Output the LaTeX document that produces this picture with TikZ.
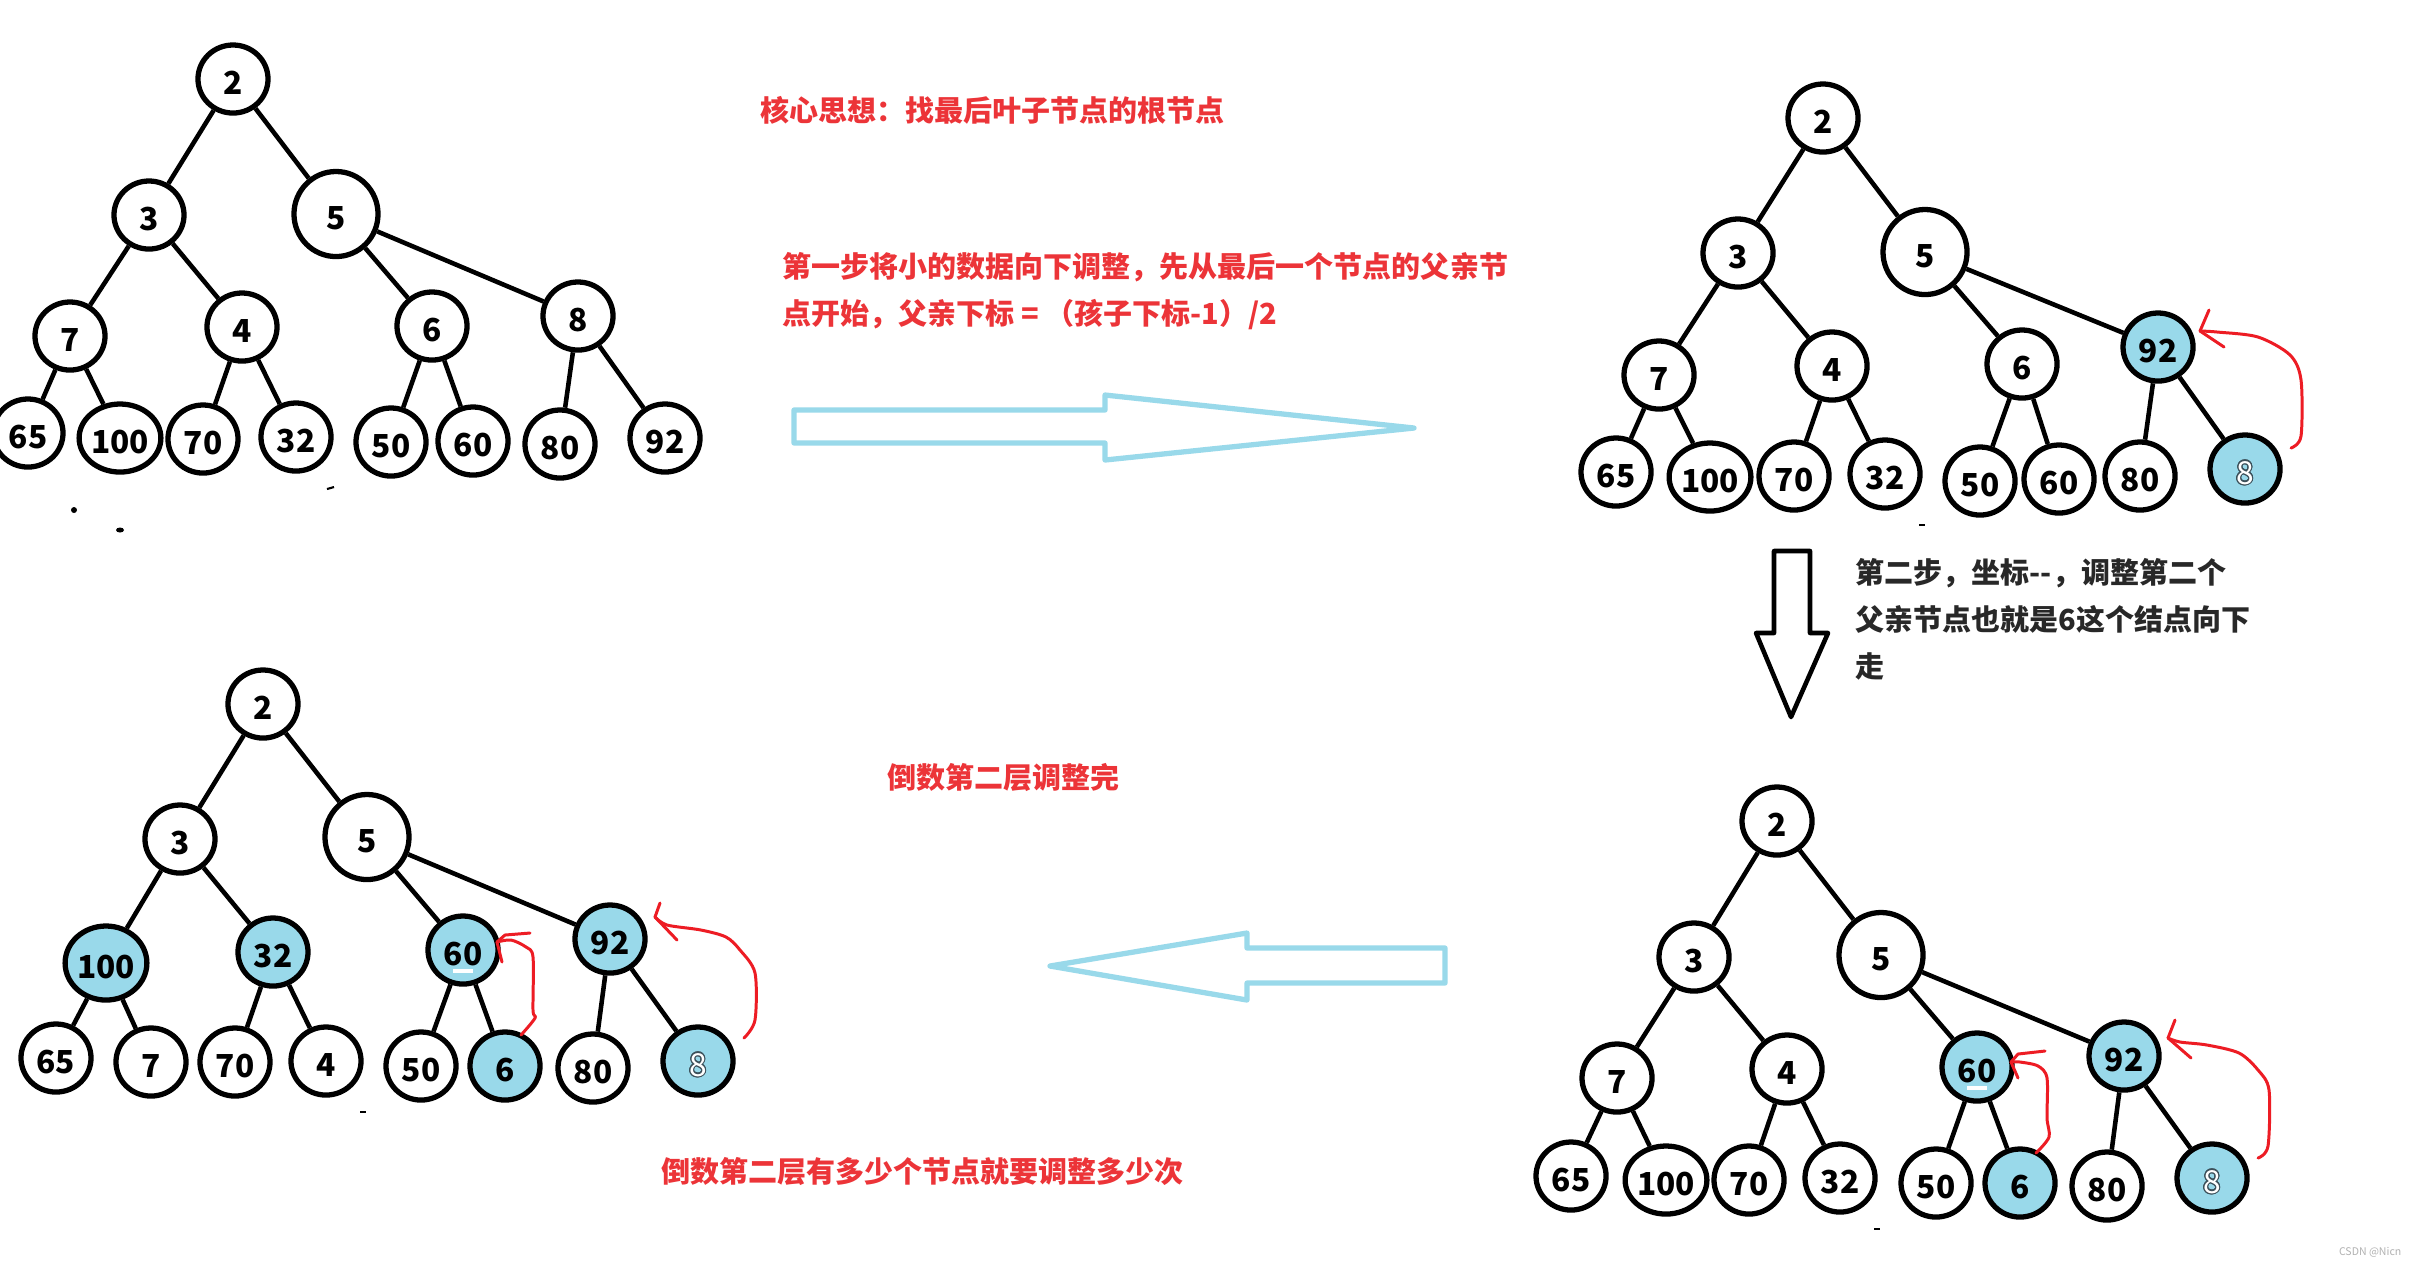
\documentclass[tikz,border=0pt]{standalone}
\usepackage{fontspec}
\newfontfamily\cjk{Noto Sans CJK SC}
\usepackage{contour}
\contourlength{0.3pt}
\usetikzlibrary{shapes.geometric}
\definecolor{nodeblue}{RGB}{153,217,234}
\definecolor{arrred}{RGB}{237,28,36}
\definecolor{textred}{RGB}{236,52,56}
\definecolor{textdark}{RGB}{40,40,40}
\definecolor{eightline}{RGB}{60,80,90}
\tikzset{
  nd/.style={ellipse, draw=black, line width=1.5pt, minimum width=0.70cm, minimum height=0.68cm,
    inner sep=0pt, fill=white, font=\cjk\bfseries\fontsize{9}{9}\selectfont,
    text height=0.3cm, text depth=0cm},
  bigger/.style={minimum width=0.84cm, minimum height=0.85cm},
  bn/.style={nd, fill=nodeblue},
  edge/.style={line width=1.3pt, black},
  redarr/.style={draw=arrred, line width=0.85pt, line join=round, line cap=round},
  blarrow/.style={draw=nodeblue, line width=1.5pt, line join=round},
  blkarrow/.style={draw=black, line width=1.3pt, line join=round},
  txt/.style={font=\cjk\bfseries\fontsize{8.25}{13.4}\selectfont, text=textred, inner sep=0pt, anchor=west, align=left},
  dtxt/.style={txt, text=textdark},
  speck/.style={fill=black},
}
\newcommand{\eightmark}{{\fontseries{m}\selectfont\contour{eightline}{\textcolor{white}{8}}}}
\begin{document}
\begin{tikzpicture}[x=0.01cm,y=-0.01cm]
\fill[white] (0,0) rectangle (2413,1265);
\useasboundingbox (0,0) rectangle (2413,1265);

% ---------- Tree 1 (top left) ----------
\node[nd] (A1) at (233,79) {2};
\node[nd] (A2) at (149,215) {3};
\node[nd,bigger] (A3) at (336,214) {5};
\node[nd] (A4) at (70,336) {7};
\node[nd] (A5) at (242,327) {4};
\node[nd] (A6) at (432,326) {6};
\node[nd] (A7) at (578,316) {8};
\node[nd] (A8) at (28,433) {65};
\node[nd] (A9) at (120,438) {100};
\node[nd] (A10) at (203,439) {70};
\node[nd] (A11) at (296,437) {32};
\node[nd] (A12) at (391,442) {50};
\node[nd] (A13) at (473,441) {60};
\node[nd] (A14) at (560,444) {80};
\node[nd] (A15) at (665,438) {92};
\foreach \p/\c in {A1/A2,A1/A3,A2/A4,A2/A5,A3/A6,A3/A7,A4/A8,A4/A9,A5/A10,A5/A11,A6/A12,A6/A13,A7/A14,A7/A15}
  \draw[edge] (\p) -- (\c);

% ---------- Tree 2 (top right) ----------
\node[nd] (B1) at (1823,118) {2};
\node[nd] (B2) at (1738,253) {3};
\node[nd,bigger] (B3) at (1925,252) {5};
\node[nd] (B4) at (1659,375) {7};
\node[nd] (B5) at (1832,366) {4};
\node[nd] (B6) at (2022,364) {6};
\node[bn] (B7) at (2158,347) {92};
\node[nd] (B8) at (1616,472) {65};
\node[nd] (B9) at (1710,477) {100};
\node[nd] (B10) at (1794,476) {70};
\node[nd] (B11) at (1885,474) {32};
\node[nd] (B12) at (1980,481) {50};
\node[nd] (B13) at (2059,479) {60};
\node[nd] (B14) at (2140,476) {80};
\node[bn] (B15) at (2245,469) {\eightmark};
\foreach \p/\c in {B1/B2,B1/B3,B2/B4,B2/B5,B3/B6,B3/B7,B4/B8,B4/B9,B5/B10,B5/B11,B6/B12,B6/B13,B7/B14,B7/B15}
  \draw[edge] (\p) -- (\c);
\draw[redarr] plot[smooth] coordinates {(2291,448) (2301,436) (2301,380) (2290,355) (2258,337) (2217,332) (2200,331)};
\draw[redarr] (2209,310) -- (2200,331) -- (2224,347);

% ---------- Tree 3 (bottom right) ----------
\node[nd] (C1) at (1777,821) {2};
\node[nd] (C2) at (1694,957) {3};
\node[nd,bigger] (C3) at (1881,955) {5};
\node[nd] (C4) at (1617,1078) {7};
\node[nd] (C5) at (1787,1069) {4};
\node[bn] (C6) at (1977,1067) {60};
\node[bn] (C7) at (2124,1056) {92};
\node[nd] (C8) at (1571,1176) {65};
\node[nd] (C9) at (1666,1180) {100};
\node[nd] (C10) at (1749,1180) {70};
\node[nd] (C11) at (1840,1178) {32};
\node[nd] (C12) at (1936,1183) {50};
\node[bn] (C13) at (2020,1183) {6};
\node[nd] (C14) at (2107,1186) {80};
\node[bn] (C15) at (2212,1178) {\eightmark};
\foreach \p/\c in {C1/C2,C1/C3,C2/C4,C2/C5,C3/C6,C3/C7,C4/C8,C4/C9,C5/C10,C5/C11,C6/C12,C6/C13,C7/C14,C7/C15}
  \draw[edge] (\p) -- (\c);
\draw[white, line width=0.9pt] ([shift={(-10,21)}]C6.center) -- ++(20,0);
\draw[redarr] plot[smooth] coordinates {(2036,1153) (2049,1137) (2047,1118) (2047,1078) (2038,1066) (2020,1062) (2011,1062)};
\draw[redarr] (2045,1051) -- (2018,1054) -- (2011,1062) -- (2018,1078);
\draw[redarr] plot[smooth] coordinates {(2258,1158) (2268,1146) (2269,1090) (2258,1070) (2239,1053) (2207,1045) (2180,1042) (2168,1038)};
\draw[redarr] (2175,1020) -- (2168,1038) -- (2191,1058);

% ---------- Tree 4 (bottom left) ----------
\node[nd] (D1) at (263,704) {2};
\node[nd] (D2) at (180,839) {3};
\node[nd,bigger] (D3) at (367,837) {5};
\node[bn, minimum width=0.80cm, minimum height=0.74cm] (D4) at (106,963) {100};
\node[bn] (D5) at (273,952) {32};
\node[bn] (D6) at (463,950) {60};
\node[bn] (D7) at (610,939) {92};
\node[nd] (D8) at (56,1058) {65};
\node[nd] (D9) at (151,1062) {7};
\node[nd] (D10) at (235,1062) {70};
\node[nd] (D11) at (326,1061) {4};
\node[nd] (D12) at (421,1066) {50};
\node[bn] (D13) at (505,1066) {6};
\node[nd] (D14) at (593,1068) {80};
\node[bn] (D15) at (698,1061) {\eightmark};
\foreach \p/\c in {D1/D2,D1/D3,D2/D4,D2/D5,D3/D6,D3/D7,D4/D8,D4/D9,D5/D10,D5/D11,D6/D12,D6/D13,D7/D14,D7/D15}
  \draw[edge] (\p) -- (\c);
\draw[white, line width=0.9pt] ([shift={(-10,21)}]D6.center) -- ++(20,0);
\draw[redarr] plot[smooth] coordinates {(521,1035) (535,1018) (533,1010) (533,957) (526,947) (511,940) (497,942)};
\draw[redarr] (530,933) -- (505,935) -- (497,942) -- (502,962);
\draw[redarr] plot[smooth] coordinates {(744,1038) (755,1020) (755,973) (740,950) (726,937) (701,930) (667,925) (655,917)};
\draw[redarr] (660,903) -- (655,917) -- (677,940);

% ---------- block arrows ----------
\draw[blarrow] (794,410) -- (1105,410) -- (1105,395) -- (1414,428) -- (1105,460) -- (1105,443) -- (794,443) -- cycle;
\draw[blarrow] (1445,948) -- (1247,948) -- (1247,933) -- (1050,966) -- (1247,1000) -- (1247,983) -- (1445,983) -- cycle;
\draw[blkarrow] (1774,551) -- (1810,551) -- (1810,633) -- (1828,633) -- (1791,717) -- (1756,633) -- (1774,633) -- cycle;

% ---------- texts ----------
\node[txt] (t1) at (760,110) {核心思想：找最后叶子节点的根节点};
\node[txt] (t2) at (782,291) {第一步将小的数据向下调整，先从最后一个节点的父亲节\\点开始，父亲下标 = （孩子下标-1）/2};
\node[dtxt] (t3) at (1855,619) {第二步，坐标--，调整第二个\\父亲节点也就是6这个结点向下\\走};
\node[txt] (t4) at (887,777) {倒数第二层调整完};
\node[txt] (t5) at (661,1171) {倒数第二层有多少个节点就要调整多少次};
\node[font=\cjk\fontsize{3}{3}\selectfont, text=black!30, inner sep=0pt, anchor=east] (wm) at (2402,1252) {CSDN @Nicn};

% ---------- stray specks ----------
\fill[speck] (74,510) circle (3);
\fill[speck] (120,530) ellipse (4 and 2.5);
\draw[black, line width=0.6pt] (327,489) -- (334,487);
\draw[black, line width=0.6pt] (1919,525) -- (1925,525);
\draw[black, line width=0.6pt] (1874,1229) -- (1880,1229);
\draw[black, line width=0.6pt] (360,1112) -- (366,1112);
\end{tikzpicture}
\end{document}
